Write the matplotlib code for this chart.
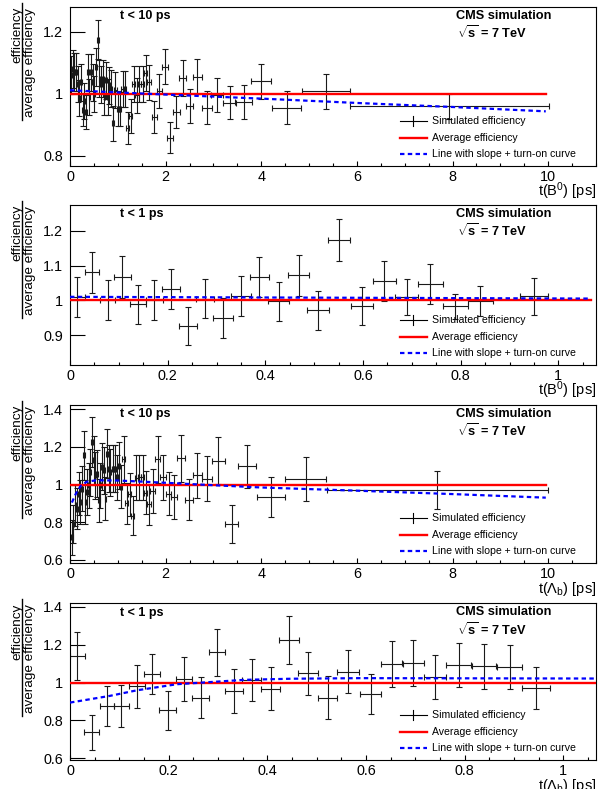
import matplotlib
matplotlib.use("Agg")
import matplotlib.pyplot as plt
from matplotlib.ticker import MultipleLocator, FuncFormatter, FixedLocator, NullLocator
from matplotlib.lines import Line2D

plt.rcParams['font.family'] = ['Liberation Sans', 'DejaVu Sans']
plt.rcParams['mathtext.fontset'] = 'custom'
plt.rcParams['mathtext.rm'] = 'Liberation Sans'
plt.rcParams['mathtext.it'] = 'Liberation Sans:italic'
plt.rcParams['mathtext.bf'] = 'Liberation Sans:bold'

# ---------------- data ----------------
# Panel 1: B0, t < 10 ps
b0_long_t = [0.02, 0.055, 0.09, 0.125, 0.16, 0.195, 0.23, 0.265, 0.30, 0.335, 0.37, 0.405, 0.44, 0.475,
             0.51, 0.545, 0.58, 0.615, 0.65, 0.685, 0.72, 0.755, 0.79, 0.825, 0.86, 0.90, 0.95, 1.00,
             1.05, 1.10, 1.14, 1.21, 1.27, 1.33, 1.40, 1.45, 1.52, 1.58, 1.66, 1.765, 1.865, 1.98,
             2.09, 2.22, 2.36, 2.50, 2.66, 2.86, 3.07, 3.34, 3.63, 4.00, 4.53, 5.35, 7.93]
b0_long_v = [1.06, 1.08, 1.07, 1.07, 1.03, 0.985, 1.037, 0.947, 0.975, 0.941, 1.069, 0.99, 1.069, 1.037,
             1.00, 1.085, 1.174, 1.048, 1.03, 1.048, 0.989, 1.043, 0.989, 1.027, 1.016, 0.904, 1.011, 0.952,
             0.95, 1.015, 1.015, 0.89, 0.928, 1.03, 0.995, 1.03, 1.032, 1.066, 1.037, 0.924, 1.008, 1.087,
             0.858, 0.94, 1.05, 0.96, 1.055, 0.955, 0.995, 0.97, 0.973, 1.04, 0.955, 1.007, 0.959]
b0_long_e = [0.062, 0.062, 0.06, 0.06, 0.058, 0.058, 0.06, 0.052, 0.058, 0.055, 0.06, 0.058, 0.06, 0.06,
             0.058, 0.062, 0.064, 0.06, 0.06, 0.06, 0.058, 0.06, 0.058, 0.06, 0.06, 0.055, 0.058, 0.055,
             0.055, 0.058, 0.058, 0.052, 0.055, 0.058, 0.056, 0.058, 0.058, 0.058, 0.056, 0.052, 0.055, 0.056,
             0.05, 0.052, 0.058, 0.054, 0.057, 0.054, 0.055, 0.053, 0.054, 0.057, 0.053, 0.055, 0.04]
b0_long_xe = [0.0175] * 25 + [0.02, 0.025, 0.025, 0.025, 0.025, 0.025, 0.03, 0.03, 0.03, 0.035, 0.035,
                              0.035, 0.035, 0.04, 0.05, 0.05, 0.06, 0.065, 0.07, 0.075, 0.08, 0.09, 0.1,
                              0.12, 0.14, 0.17, 0.21, 0.31, 0.5, 2.08]
b0_long_avg_t = [0.0, 9.95]
b0_long_avg_v = [1.0, 1.0]
b0_long_fit_t = [0.0, 2.0, 4.0, 6.0, 8.0, 9.95]
b0_long_fit_v = [1.011, 0.997, 0.984, 0.970, 0.957, 0.943]

# Panel 2: B0, t < 1 ps
b0_short_t = [0.015, 0.045, 0.077, 0.107, 0.139, 0.173, 0.207, 0.242, 0.276, 0.313, 0.35, 0.388,
              0.427, 0.468, 0.508, 0.551, 0.598, 0.643, 0.689, 0.738, 0.789, 0.84, 0.95]
b0_short_v = [1.01, 1.08, 1.0, 1.067, 0.988, 1.0, 1.033, 0.927, 1.004, 0.949, 1.0125, 1.067,
              0.997, 1.072, 0.971, 1.173, 0.983, 1.056, 1.01, 1.046, 0.983, 0.998, 1.012]
b0_short_e = [0.057, 0.059, 0.057, 0.059, 0.056, 0.057, 0.057, 0.055, 0.056, 0.057, 0.058, 0.058,
              0.056, 0.059, 0.055, 0.061, 0.055, 0.058, 0.052, 0.057, 0.036, 0.043, 0.053]
b0_short_xe = [0.015, 0.015, 0.016, 0.017, 0.017, 0.018, 0.019, 0.019, 0.019, 0.02, 0.02, 0.02,
               0.021, 0.022, 0.022, 0.022, 0.023, 0.0235, 0.024, 0.026, 0.026, 0.026, 0.028]
b0_short_avg_t = [0.0, 1.067]
b0_short_avg_v = [1.0, 1.0]
b0_short_fit_t = [0.0, 1.067]
b0_short_fit_v = [1.01, 1.005]

# Panel 3: Lambda_b, t < 10 ps
lb_long_t = [0.042, 0.07, 0.112, 0.147, 0.181, 0.216, 0.251, 0.286, 0.321, 0.356, 0.39, 0.425, 0.46,
             0.495, 0.53, 0.565, 0.6, 0.634, 0.669, 0.704, 0.739, 0.774, 0.809, 0.844, 0.893, 0.948,
             0.983, 1.02, 1.07, 1.12, 1.19, 1.25, 1.31, 1.39, 1.45, 1.52, 1.58, 1.65, 1.73, 1.83, 1.95,
             2.06, 2.18, 2.32, 2.49, 2.66, 2.86, 3.10, 3.38, 3.71, 4.20, 4.93, 7.68]
lb_long_v = [0.72, 0.79, 0.89, 0.872, 0.952, 0.908, 0.979, 1.156, 0.908, 0.961, 0.996, 1.067, 1.227,
             1.129, 1.05, 1.058, 0.917, 0.996, 1.094, 1.076, 0.926, 1.165, 1.085, 1.067, 1.085, 1.085,
             1.04, 1.10, 0.99, 1.135, 0.90, 0.948, 0.836, 1.037, 1.04, 1.04, 0.957, 0.895, 0.966, 1.135, 1.04,
             0.952, 0.934, 1.139, 0.92, 1.05, 1.032, 1.126, 0.792, 1.098, 0.934, 1.032, 0.97]
lb_long_e = [0.093, 0.1, 0.11, 0.11, 0.115, 0.115, 0.12, 0.13, 0.115, 0.12, 0.12, 0.125, 0.133,
             0.13, 0.125, 0.125, 0.115, 0.12, 0.125, 0.125, 0.115, 0.13, 0.125, 0.125, 0.125, 0.125,
             0.12, 0.125, 0.115, 0.125, 0.11, 0.115, 0.105, 0.12, 0.12, 0.12, 0.115, 0.11, 0.115, 0.125, 0.12,
             0.115, 0.115, 0.125, 0.11, 0.12, 0.12, 0.125, 0.1, 0.114, 0.107, 0.117, 0.1]
lb_long_xe = [0.0175] * 27 + [0.025, 0.025, 0.03, 0.03, 0.03, 0.035, 0.035, 0.035, 0.035, 0.035,
                              0.045, 0.05, 0.055, 0.06, 0.06, 0.065, 0.075, 0.085, 0.09, 0.1, 0.14,
                              0.14, 0.19, 0.29, 0.43, 2.31]
lb_long_avg_t = [0.0, 9.95]
lb_long_avg_v = [1.0, 1.0]
lb_long_fit_t = [0.04, 0.1, 0.15, 0.23, 0.35, 0.54, 1.0, 2.0, 3.0, 4.0, 6.0, 8.0, 9.95]
lb_long_fit_v = [0.905, 0.94, 0.965, 0.995, 1.015, 1.023, 1.022, 1.01, 0.997, 0.985, 0.968, 0.95, 0.931]

# Panel 4: Lambda_b, t < 1 ps
lb_short_t = [0.015, 0.044, 0.075, 0.104, 0.136, 0.166, 0.198, 0.231, 0.265, 0.298, 0.332, 0.368,
              0.407, 0.444, 0.483, 0.522, 0.564, 0.609, 0.653, 0.695, 0.739, 0.788, 0.839, 0.891, 0.945]
lb_short_v = [1.142, 0.738, 0.876, 0.876, 0.979, 1.044, 0.853, 1.018, 0.920, 1.159, 0.956, 1.014,
              0.968, 1.225, 1.048, 0.920, 1.058, 0.938, 1.097, 1.101, 1.030, 1.092, 1.085, 1.08, 0.970]
lb_short_e = [0.127, 0.093, 0.105, 0.11, 0.113, 0.104, 0.104, 0.118, 0.108, 0.126, 0.115, 0.11,
              0.112, 0.127, 0.115, 0.113, 0.115, 0.106, 0.123, 0.122, 0.117, 0.115, 0.12, 0.116, 0.11]
lb_short_xe = [0.015, 0.015, 0.015, 0.015, 0.016, 0.016, 0.017, 0.017, 0.017, 0.017, 0.018, 0.019,
               0.019, 0.02, 0.02, 0.02, 0.022, 0.022, 0.022, 0.022, 0.022, 0.025, 0.025, 0.025, 0.028]
lb_short_avg_t = [0.0, 1.063]
lb_short_avg_v = [1.0, 1.0]
lb_short_fit_t = [0.0, 0.08, 0.136, 0.217, 0.271, 0.353, 0.45, 0.59, 1.063]
lb_short_fit_v = [0.894, 0.929, 0.959, 0.991, 1.0, 1.014, 1.02, 1.023, 1.021]

cut_labels = ["t < 10 ps", "t < 1 ps", "t < 10 ps", "t < 1 ps"]
x_labels = [r"t(B$^{0}$) [ps]", r"t(B$^{0}$) [ps]",
            r"t($\Lambda_{\mathrm{b}}$) [ps]", r"t($\Lambda_{\mathrm{b}}$) [ps]"]
legend_labels = ["Simulated efficiency", "Average efficiency", "Line with slope + turn-on curve"]
y_ticks = [[0.8, 1.0, 1.2], [0.9, 1.0, 1.1, 1.2], [0.6, 0.8, 1.0, 1.2, 1.4], [0.6, 0.8, 1.0, 1.2, 1.4]]

# ---------------- layout ----------------
W, H = 603, 789
fig = plt.figure(figsize=(W / 100, H / 100), dpi=100)


def fx(x):
    return x / W


def fy(y):
    return 1 - y / H


panels = [
    dict(t=b0_long_t, v=b0_long_v, e=b0_long_e, xe=b0_long_xe, at=b0_long_avg_t, av=b0_long_avg_v,
         ft=b0_long_fit_t, fv=b0_long_fit_v, top=7, bot=166, xlim=(0, 11), ylim=(0.767, 1.279),
         xmaj=2, xmin=0.5),
    dict(t=b0_short_t, v=b0_short_v, e=b0_short_e, xe=b0_short_xe, at=b0_short_avg_t, av=b0_short_avg_v,
         ft=b0_short_fit_t, fv=b0_short_fit_v, top=205, bot=365, xlim=(0, 1.077), ylim=(0.814, 1.274),
         xmaj=0.2, xmin=0.05),
    dict(t=lb_long_t, v=lb_long_v, e=lb_long_e, xe=lb_long_xe, at=lb_long_avg_t, av=lb_long_avg_v,
         ft=lb_long_fit_t, fv=lb_long_fit_v, top=405, bot=563, xlim=(0, 11), ylim=(0.584, 1.423),
         xmaj=2, xmin=0.5),
    dict(t=lb_short_t, v=lb_short_v, e=lb_short_e, xe=lb_short_xe, at=lb_short_avg_t, av=lb_short_avg_v,
         ft=lb_short_fit_t, fv=lb_short_fit_v, top=603.3, bot=760, xlim=(0, 1.066), ylim=(0.591, 1.418),
         xmaj=0.2, xmin=0.05),
]

L, R = 70, 596
RED = '#ff0000'
BLUE = '#0000ff'
DASH = (0, (2.0, 1.5))
fmt = FuncFormatter(lambda val, pos: f"{val:g}")

for i, p in enumerate(panels):
    top, bot = p['top'], p['bot']
    ax = fig.add_axes([fx(L), fy(bot), (R - L) / W, (bot - top) / H])
    ax.errorbar(p['t'], p['v'], yerr=p['e'], xerr=p['xe'], fmt='none', ecolor='#1a1a1a',
                elinewidth=0.8, capsize=2.2, capthick=0.8, zorder=2)
    ax.plot(p['at'], p['av'], color=RED, lw=1.7, zorder=3)
    ax.plot(p['ft'], p['fv'], color=BLUE, lw=1.6, ls=DASH, zorder=4)
    ax.set_xlim(*p['xlim'])
    ax.set_ylim(*p['ylim'])
    ax.xaxis.set_major_locator(MultipleLocator(p['xmaj']))
    ax.xaxis.set_minor_locator(MultipleLocator(p['xmin']))
    ax.yaxis.set_major_locator(FixedLocator(y_ticks[i]))
    ax.yaxis.set_minor_locator(NullLocator())
    ax.xaxis.set_major_formatter(fmt)
    ax.yaxis.set_major_formatter(fmt)
    ax.tick_params(axis='both', which='both', direction='in', top=False, right=False, width=0.8)
    ax.tick_params(axis='y', which='major', length=10.8, pad=5, labelsize=10.4)
    ax.tick_params(axis='x', which='major', length=3.6, pad=3, labelsize=10.4)
    ax.tick_params(axis='x', which='minor', length=2.2)
    for s in ax.spines.values():
        s.set_linewidth(0.8)

    # in-plot texts
    fig.text(fx(120), fy(top + 9.5), cut_labels[i], fontsize=9, fontweight='bold', ha='left', va='center')
    fig.text(fx(455.7), fy(top + 9), "CMS simulation", fontsize=9.2, fontweight='bold', ha='left', va='center')
    fig.text(fx(456.7), fy(top + 26), r"$\mathbf{\sqrt{s}}$ = 7 TeV", fontsize=9.2, fontweight='bold',
             ha='left', va='center')

    # x label
    fig.text(fx(R), fy(bot + 30), x_labels[i], fontsize=10.5, ha='right', va='baseline')

    # y label as fraction
    fig.text(fx(17), fy(top), "efficiency", fontsize=9.7, rotation=90, ha='center', va='top')
    fig.text(fx(29.5), fy(top + 1), "average efficiency", fontsize=9.7, rotation=90, ha='center', va='top')
    fig.add_artist(Line2D([fx(22.5), fx(22.5)], [fy(top - 4), fy(top + 113)], color='black', lw=1.0))

    # legend
    ly = [bot - 45, bot - 28.3, bot - 11.8]
    x0, x1 = 400, 426.7
    fig.add_artist(Line2D([fx(x0), fx(x1)], [fy(ly[0]), fy(ly[0])], color='black', lw=0.8))
    fig.add_artist(Line2D([fx((x0 + x1) / 2)] * 2, [fy(ly[0] - 4.7), fy(ly[0] + 4.7)], color='black', lw=0.8))
    fig.add_artist(Line2D([fx(x0), fx(x1)], [fy(ly[1]), fy(ly[1])], color=RED, lw=1.7))
    fig.add_artist(Line2D([fx(x0), fx(x1)], [fy(ly[2]), fy(ly[2])], color=BLUE, lw=1.6, ls=DASH))
    for k in range(3):
        fig.text(fx(432.3), fy(ly[k]), legend_labels[k], fontsize=7.6, ha='left', va='center')

fig.savefig("out.png", dpi=100)
